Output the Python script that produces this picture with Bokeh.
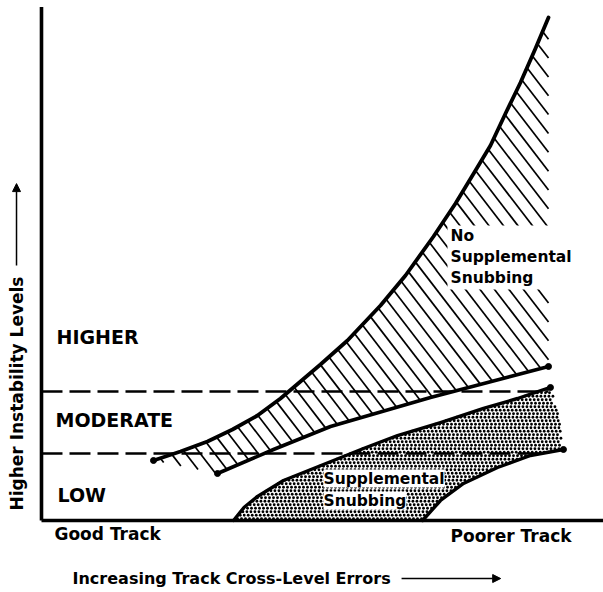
import numpy as np
from bokeh.plotting import figure
from bokeh.models import Range1d, Arrow, NormalHead
from bokeh.core.properties import value
from bokeh.embed import file_html
from bokeh.resources import INLINE

# ---- data (relative units: x 0..100 = track cross-level error, y 0..100 = instability) ----
# "No Supplemental Snubbing" band
nss_upper_x = [20.0, 24.82, 29.64, 34.11, 38.57, 42.68, 46.25, 49.82, 54.64, 60.54,
               65.0, 70.0, 73.93, 77.5, 80.18, 82.86, 85.54, 88.21, 90.54]
nss_upper_y = [11.72, 13.48, 15.43, 17.77, 20.51, 23.83, 27.15, 30.47, 35.16, 41.99,
               47.85, 55.47, 61.91, 68.36, 73.24, 79.49, 85.55, 92.19, 98.24]
nss_lower_x = [31.43, 41.43, 51.61, 69.46, 90.54]
nss_lower_y = [9.18, 13.87, 18.36, 24.02, 30.08]

# "Supplemental Snubbing" band
ss_upper_x = [34.29, 36.2, 38.57, 43.21, 48.57, 52.14, 57.5, 63.57, 71.25, 78.93, 85.0, 90.89]
ss_upper_y = [0.0, 2.6, 4.7, 7.81, 10.16, 11.72, 14.06, 16.6, 19.14, 21.88, 23.83, 25.98]
ss_edge_x = [92.14, 92.86]
ss_edge_y = [21.48, 16.21]
ss_lower_x = [68.04, 71.25, 75.36, 81.43, 87.32, 93.21]
ss_lower_y = [0.0, 3.91, 7.23, 10.35, 12.7, 13.87]

# instability level thresholds (dashed) and level labels
level_bounds = [25.2, 13.09]
level_ends = [90.5, 90.0]
level_names = ["HIGHER", "MODERATE", "LOW"]
level_label_x = [2.68, 2.5, 2.86]
level_label_y = [35.9, 19.7, 4.9]

FONT = "DejaVu Sans"
SX, SY = 5.6, 5.12          # screen px per data unit (used only for texture geometry)

p = figure(width=603, height=592, output_backend="svg", toolbar_location=None,
           x_range=Range1d(-7.32, 100.36), y_range=Range1d(-14.06, 101.56),
           x_axis_location=None, y_axis_location=None, min_border=0)
p.grid.visible = False
p.outline_line_color = None
p.background_fill_color = "white"
p.border_fill_color = "white"


def hatch_segments(px, py, slope=1.3, step=14.5):
    """Clip a family of parallel diagonal lines (down-right) to a polygon."""
    X = np.asarray(px) * SX
    Y = np.asarray(py) * SY
    u = X + Y / slope
    n = len(X)
    xs, ys = [], []
    c = np.floor(u.min() / step) * step + step / 2
    while c < u.max():
        pts = []
        for i in range(n):
            j = (i + 1) % n
            a, b = u[i] - c, u[j] - c
            if a * b < 0:
                t = a / (a - b)
                pts.append(Y[i] + t * (Y[j] - Y[i]))
        pts.sort()
        for k in range(0, len(pts) - 1, 2):
            y0, y1 = pts[k], pts[k + 1]
            xs.append([(c - y0 / slope) / SX, (c - y1 / slope) / SX])
            ys.append([y0 / SY, y1 / SY])
        c += step
    return xs, ys


def stipple_points(px, py, pitch=4.0, row=3.5):
    """Staggered lattice of dot centres inside a polygon (texture only)."""
    X = np.asarray(px) * SX
    Y = np.asarray(py) * SY
    gx, gy = [], []
    rows = np.arange(Y.min() + row / 2, Y.max(), row)
    for r, yy in enumerate(rows):
        off = (r % 2) * pitch / 2 + (r % 3) * 0.7
        xx = np.arange(X.min() + off, X.max(), pitch)
        inside = np.zeros(len(xx), dtype=bool)
        n = len(X)
        for i in range(n):
            j = (i + 1) % n
            if (Y[i] > yy) != (Y[j] > yy):
                xi = X[i] + (yy - Y[i]) * (X[j] - X[i]) / (Y[j] - Y[i])
                inside ^= xx < xi
        gx.extend(xx[inside] / SX)
        gy.extend([yy / SY] * int(inside.sum()))
    return gx, gy


# hatched band
hx = nss_upper_x + nss_lower_x[::-1]
hy = nss_upper_y + nss_lower_y[::-1]
hxs, hys = hatch_segments(hx, hy)
p.multi_line(hxs, hys, line_color="black", line_width=1.7)

# stippled band
sx = ss_upper_x + ss_edge_x + ss_lower_x[::-1]
sy = ss_upper_y + ss_edge_y + ss_lower_y[::-1]
dx, dy = stipple_points(sx, sy)
p.scatter(dx, dy, marker="circle", size=2.8, fill_color="black", line_color=None)

# white clearing behind the "No Supplemental Snubbing" note
p.quad(left=[72.5], right=[91.3], bottom=[45.1], top=[57.6], fill_color="white", line_color=None)

# dashed level bounds
for yb, xe in zip(level_bounds, level_ends):
    p.line([0, xe], [yb, yb], line_color="black", line_width=2.4, line_dash="21 7")

# band boundary curves
for xs_, ys_, w in [(nss_upper_x, nss_upper_y, 3.8), (nss_lower_x, nss_lower_y, 3.6),
                    (ss_upper_x, ss_upper_y, 3.4), (ss_lower_x, ss_lower_y, 3.4)]:
    p.line(xs_, ys_, line_color="black", line_width=w, line_cap="round", line_join="round")
end_x = [nss_upper_x[0], nss_lower_x[0], nss_lower_x[-1], ss_upper_x[-1], ss_lower_x[-1]]
end_y = [nss_upper_y[0], nss_lower_y[0], nss_lower_y[-1], ss_upper_y[-1], ss_lower_y[-1]]
p.scatter(end_x, end_y, size=6, color="black")

# axes
p.line([0, 0], [0, 100.3], line_color="black", line_width=3.6)
p.line([0, 101], [0, 0], line_color="black", line_width=3.6)

# level labels
p.text(x=level_label_x, y=level_label_y, text=level_names,
       text_font=value(FONT), text_font_size="19px", text_font_style="bold",
       text_baseline="middle", text_align="left", text_color="black")

# band labels
p.text(x=[73.04] * 3, y=[55.66, 51.37, 47.27], text=["No", "Supplemental", "Snubbing"],
       text_font=value(FONT), text_font_size="15.5px", text_font_style="bold",
       text_baseline="middle", text_align="left", text_color="black")
p.text(x=[50.36, 50.36], y=[8.2, 3.9], text=["Supplemental", "Snubbing"],
       text_font=value(FONT), text_font_size="15.5px", text_font_style="bold",
       text_baseline="middle", text_align="left", text_color="black",
       background_fill_color="white")

# x-end labels
p.text(x=[2.32, 73.04], y=[-2.73, -3.1], text=["Good Track", "Poorer Track"],
       text_font=value(FONT), text_font_size="17px", text_font_style="bold",
       text_baseline="middle", text_align="left", text_color="black")

# axis titles with arrows
p.text(x=[5.54], y=[-11.33], text=["Increasing Track Cross-Level Errors"],
       text_font=value(FONT), text_font_size="16px", text_font_style="bold",
       text_baseline="middle", text_align="left", text_color="black")
p.text(x=[-4.46], y=[1.95], text=["Higher Instability Levels"], angle=np.pi / 2,
       text_font=value(FONT), text_font_size="17px", text_font_style="bold",
       text_baseline="middle", text_align="left", text_color="black")

p.add_layout(Arrow(x_start=64.3, y_start=-11.33, x_end=82.0, y_end=-11.33,
                   line_color="black", line_width=1.5,
                   end=NormalHead(size=8, fill_color="black", line_color="black")))
p.add_layout(Arrow(x_start=-4.46, y_start=49.8, x_end=-4.46, y_end=65.8,
                   line_color="black", line_width=1.5,
                   end=NormalHead(size=8, fill_color="black", line_color="black")))

open("out.html", "w").write(file_html(p, INLINE))
